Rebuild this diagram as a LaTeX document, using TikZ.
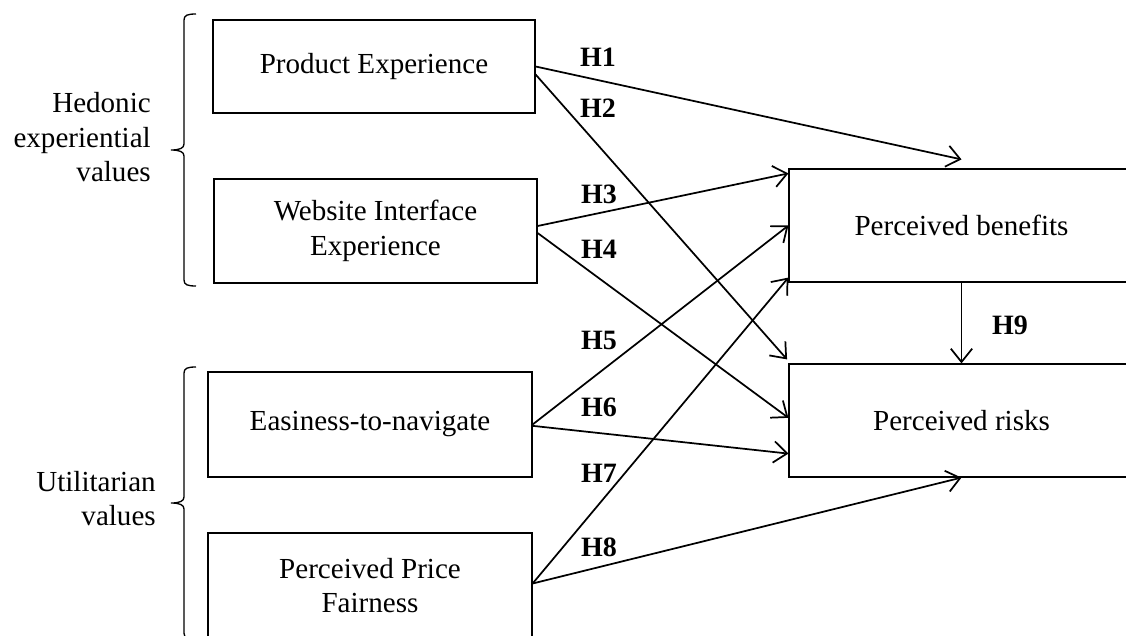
\documentclass[tikz,border=0pt]{standalone}
\usepackage{fontspec}
\setmainfont{Liberation Serif}
\usetikzlibrary{arrows.meta}

\begin{document}
\begin{tikzpicture}[x=0.75pt,y=-0.75pt,
  box/.style={draw, line width=0.9pt, inner sep=0pt, align=center,
              font=\fontsize{21.8}{25.9}\selectfont},
  link/.style={line width=1.3pt,
               -{Straight Barb[length=10pt,width=16pt,line width=1.3pt]}},
  hyp/.style={inner sep=0pt, font=\fontsize{21}{25}\selectfont\bfseries},
  group/.style={inner sep=0pt, align=right,
                font=\fontsize{21.8}{25.9}\selectfont},
  brace/.style={line width=1pt}]

\path[use as bounding box] (0,0) rectangle (1126,635);

% antecedent constructs
\node[box, minimum width=241.5pt, minimum height=69.75pt] (pe) at (374,66.5) {Product Experience};
\node[box, minimum width=242.25pt, minimum height=78pt] (wi) at (375.5,231) {Website Interface\\Experience};
\node[box, minimum width=243pt, minimum height=78.75pt] (en) at (370,424.5) {Easiness-to-navigate};
\node[box, minimum width=243pt, minimum height=78.75pt] (pp) at (370,585.5) {Perceived Price\\Fairness};

% outcome constructs
\node[box, minimum width=258.75pt, minimum height=84.75pt] (pb) at (961.5,225.5) {Perceived benefits};
\node[box, minimum width=258.75pt, minimum height=84.75pt] (pr) at (961.5,420.5) {Perceived risks};

% group labels and braces
\node[group, anchor=east] (hed) at (151,137.5) {Hedonic\\experiential\\values};
\node[group, anchor=east] (uti) at (156,498.5) {Utilitarian\\values};

\draw[brace] (196,14) .. controls (188,14) and (184,15) .. (184,20) -- (184,144)
  .. controls (184,148) and (180,150) .. (171,150)
  .. controls (180,150) and (184,152) .. (184,156) -- (184,280)
  .. controls (184,285) and (188,286) .. (196,286);
\draw[brace] (196,367) .. controls (188,367) and (184,368) .. (184,373) -- (184,497)
  .. controls (184,501) and (180,503) .. (171,503)
  .. controls (180,503) and (184,505) .. (184,509) -- (184,633)
  .. controls (184,638) and (188,639) .. (196,639);

% hypothesised paths
\draw[link] (pe.east) -- ([yshift=6.75pt]pb.north);
\draw[link] ([yshift=-6pt]pe.east) -- ([shift={(-1pt,3pt)}]pr.north west);
\draw[link] ([yshift=3.75pt]wi.east) -- ([yshift=-3.75pt]pb.north west);
\draw[link] ([yshift=-1.5pt]wi.east) -- ([yshift=2pt]pr.west);
\draw[link] (en.east) -- (pb.west);
\draw[link] ([yshift=-1pt]en.east) -- ([yshift=18pt]pr.south west);
\draw[link] ([yshift=1.5pt]pp.east) -- ([yshift=3.75pt]pb.south west);
\draw[link] ([yshift=1.5pt]pp.east) -- (pr.south);
\draw[link] (pb.south) -- (pr.north);

% hypothesis labels
\node[hyp] (h1) at (598,57) {H1};
\node[hyp] (h2) at (598,108) {H2};
\node[hyp] (h3) at (599,194) {H3};
\node[hyp] (h4) at (599,249) {H4};
\node[hyp] (h5) at (599,340) {H5};
\node[hyp] (h6) at (599,407) {H6};
\node[hyp] (h7) at (599,473) {H7};
\node[hyp] (h8) at (599,547) {H8};
\node[hyp] (h9) at (1010,325) {H9};
\end{tikzpicture}
\end{document}
